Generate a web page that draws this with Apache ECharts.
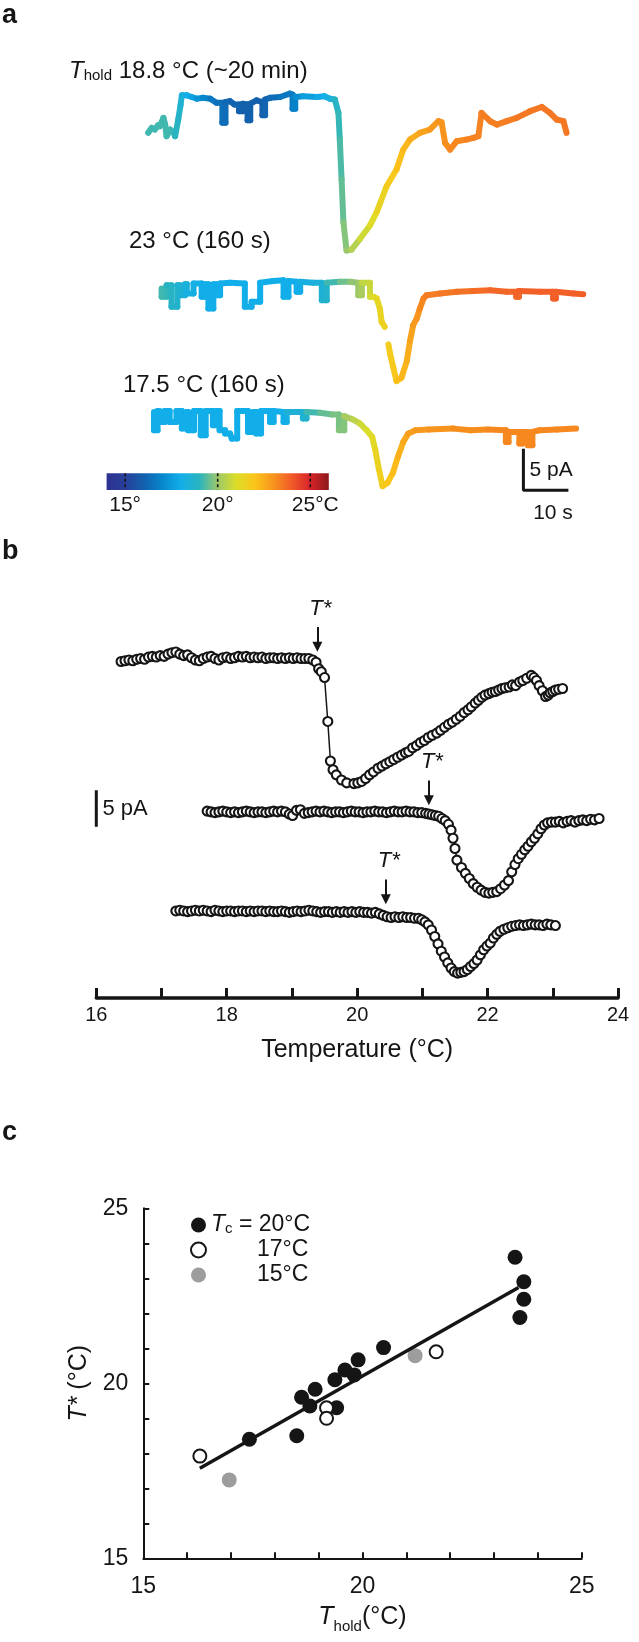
<!doctype html>
<html>
<head>
<meta charset="UTF-8">
<title>T* vs Thold</title>
<style>
  html, body { margin: 0; padding: 0; background: #fff; }
  #chart { width: 639px; height: 1642px; }
</style>
</head>
<body>
<div id="chart"></div>
<script src="https://cdn.jsdelivr.net/npm/echarts@6.0.0/dist/echarts.min.js"></script>
<script>
// ---- panel a: current traces, [time s, current pA, temperature °C]
var aTrace1 = [
  [1.8,-4.3,19.2],[2.6,-3.7,19.2],[3.3,-3.9,19.2],[4.0,-3.4,19.2],[4.4,-3.5,19.2],[5.2,-2.5,19.2],
  [5.6,-3.3,19.2],[5.9,-4.7,19.2],[6.7,-3.9,19.2],[7.4,-4.2,19.2],[7.8,-4.7,19.1],[8.5,-2.7,19.0],
  [9.0,-1.0,18.8],[9.3,0.2,18.6],[10.4,0.2,18.3],[11.5,0.0,18.0],[12.6,-0.2,17.7],[14.0,-0.1,17.3],
  [15.6,-0.2,17.0],[17.0,-0.7,16.6],[18.3,-0.7,16.4],[18.3,-3.1,16.4],[19.0,-3.1,16.3],[19.0,-0.6,16.3],
  [20.0,-0.5,16.2],[21.0,-0.9,16.1],[22.0,-0.9,16.1],[22.0,-1.7,16.1],[22.8,-1.7,16.0],[22.8,-0.8,16.0],
  [23.9,-0.9,16.0],[23.9,-2.8,16.0],[24.5,-2.8,16.0],[24.5,-0.8,16.0],[25.9,-0.4,16.0],[27.2,-0.6,16.0],
  [27.2,-2.2,16.0],[27.8,-2.2,16.0],[27.8,-0.3,16.1],[28.9,-0.1,16.1],[31.1,0.0,16.3],[33.3,0.4,16.6],
  [33.9,0.3,16.7],[33.9,-1.4,16.7],[34.5,-1.4,16.8],[34.5,0.0,16.9],[36.3,0.1,17.2],[39.3,0.0,17.6],
  [41.0,0.1,17.9],[42.2,-0.2,18.1],[43.3,-0.3,18.4],[44.1,-1.9,18.9],[44.4,-5.1,19.1],[44.8,-9.9,19.3],
  [45.2,-15.0,19.5],[45.9,-18.4,19.8],[47.0,-18.3,20.0],[48.9,-17.0,20.4],[51.1,-15.4,20.8],[52.6,-13.8,21.1],
  [54.8,-10.7,21.4],[57.0,-8.7,21.8],[58.5,-6.3,22.1],[60.0,-5.1,22.3],[62.2,-4.3,22.5],[64.4,-3.9,22.7],
  [66.3,-2.9,22.9],[67.0,-3.0,23.0],[67.8,-5.5,23.0],[68.9,-6.3,23.1],[70.4,-5.3,23.2],[72.6,-5.1,23.2],
  [74.1,-4.9,23.3],[75.2,-4.7,23.3],[75.9,-1.9,23.3],[77.8,-2.9,23.4],[79.3,-3.3,23.4],[81.5,-2.9,23.4],
  [83.7,-2.5,23.4],[86.7,-1.7,23.5],[89.3,-1.2,23.5],[91.1,-1.9,23.5],[92.6,-2.7,23.5],[94.1,-2.9,23.5],
  [94.8,-4.3,23.5]
];
var aTrace2 = [
  [4.8,-0.6,19.2],[4.8,-1.6,19.2],[5.9,-1.6,19.2],[5.9,-0.2,19.1],
  [7.0,-0.2,18.9],[7.0,-2.8,18.9],[8.3,-2.8,18.8],[8.3,-0.2,18.7],
  [8.9,-0.2,18.6],[8.9,-1.4,18.6],[10.0,-1.4,18.5],[10.0,-0.1,18.4],
  [10.4,-0.1,18.4],[10.4,-1.2,18.4],[11.9,-1.2,18.2],[11.9,0.0,18.2],
  [13.7,0.0,18.1],[13.7,-1.6,18.0],[14.4,-1.6,18.0],[14.4,-0.1,18.0],
  [15.2,-0.1,18.0],[15.2,-3.0,18.0],[16.3,-3.0,18.0],[16.3,-0.1,18.0],
  [17.0,-0.1,18.0],[17.0,-1.4,18.0],[17.8,-1.4,18.0],[17.8,0.0,18.0],
  [20.0,0.1,18.0],[23.3,0.0,18.0],[23.3,-2.8,18.0],[24.8,-2.8,18.0],[24.8,-2.2,18.0],[26.7,-2.2,18.0],
  [26.7,0.1,18.0],[29.6,0.3,18.0],[31.9,0.4,18.0],[31.9,-1.6,18.0],[33.0,-1.6,18.0],[33.0,0.3,18.0],
  [34.8,0.2,18.0],[34.8,-1.0,18.0],[35.6,-1.0,18.0],[35.6,0.2,18.0],
  [38.5,0.1,18.2],[40.4,0.1,18.4],[40.4,-2.0,18.5],[41.5,-2.0,18.6],[41.5,0.1,18.7],
  [44.4,0.2,19.2],[46.7,0.2,19.6],[48.5,0.1,19.9],[48.5,-1.4,20.0],[49.3,-1.4,20.1],[49.3,0.1,20.2],
  [51.1,0.1,20.6],[51.1,-1.6,20.7],[51.9,-1.6,20.9],[52.6,-1.8,21.1],[53.3,-3.0,21.3],
  [53.7,-4.6,21.4],[54.4,-5.2,21.5],[54.5,null,21.5],[55.2,-7.3,21.6],[55.6,-8.5,21.7],[56.3,-10.1,21.8],
  [57.0,-11.7,21.9],[58.1,-11.3,22.1],[59.3,-9.3,22.3],[60.0,-6.9,22.5],[60.7,-5.0,22.7],[61.5,-4.2,22.9],
  [62.2,-3.0,23.0],[63.0,-1.8,23.2],[63.7,-1.4,23.3],[66.7,-1.2,23.4],[70.4,-1.0,23.5],[74.1,-0.9,23.6],
  [77.8,-0.8,23.7],[81.5,-1.0,23.8],[83.6,-1.0,23.8],[83.6,-1.6,23.8],[84.2,-1.6,23.8],[84.2,-0.9,23.8],
  [88.9,-1.0,23.9],[91.8,-1.0,23.9],[91.8,-1.8,23.9],[92.4,-1.8,23.9],[92.4,-1.0,23.9],[96.3,-1.2,23.9],
  [98.5,-1.3,23.9]
];
var aTrace3 = [
  [3.1,0.0,18.0],[3.1,-2.2,18.0],[3.9,-2.2,18.0],[3.9,0.1,18.0],
  [4.3,0.1,18.0],[4.3,-1.2,18.0],[5.5,-1.2,18.0],[5.5,0.1,18.0],
  [6.6,0.1,18.0],[6.6,-1.2,18.0],[8.1,-1.2,18.0],[8.1,0.1,18.0],
  [9.3,0.1,18.0],[9.3,-2.0,18.0],[10.4,-2.0,18.0],[10.4,0.0,18.0],
  [10.7,0.0,18.0],[10.7,-2.2,18.0],[12.0,-2.2,18.0],[12.0,0.1,18.0],
  [13.5,0.1,18.0],[13.5,-2.8,18.0],[14.6,-2.8,18.0],[14.6,0.1,18.0],
  [16.2,0.1,18.0],[16.2,-1.6,18.0],[17.0,-1.6,18.0],[17.0,0.1,18.0],
  [17.7,0.1,18.0],[17.7,-2.2,18.0],[18.9,-2.2,18.0],[18.9,-2.6,18.0],[20.0,-2.6,18.0],[20.4,-3.2,18.0],
  [21.6,-3.2,18.0],[21.6,0.1,18.0],[24.0,0.1,18.0],[24.0,-2.4,18.0],[25.2,-2.4,18.0],[25.2,0.0,18.0],
  [25.8,0.0,18.0],[25.8,-2.6,18.0],[26.9,-2.6,18.0],[26.9,0.1,18.0],
  [28.9,0.1,18.0],[28.9,-1.2,18.0],[29.7,-1.2,18.0],[29.7,0.1,18.0],
  [31.9,0.0,18.0],[31.9,-1.2,18.0],[32.6,-1.2,18.0],[32.6,0.0,18.1],
  [36.2,0.0,18.5],[36.2,-0.8,18.5],[37.0,-0.8,18.6],[37.0,0.0,18.7],
  [40.0,-0.1,19.2],[42.7,-0.3,19.5],[44.2,-0.3,19.7],[44.2,-2.2,19.7],[45.4,-2.2,19.8],[45.4,-0.5,19.8],
  [47.3,-0.9,20.2],[48.9,-1.4,20.5],[50.4,-2.2,20.8],[51.6,-3.0,21.0],[52.3,-4.6,21.2],
  [53.1,-6.9,21.4],[53.9,-8.9,21.6],[55.0,-8.5,21.8],[56.2,-7.3,22.0],[57.3,-5.4,22.2],[58.5,-3.6,22.4],
  [59.6,-2.6,22.6],[61.2,-2.2,22.8],[64.2,-2.1,22.9],[69.6,-2.0,23.0],[73.5,-2.2,23.1],[77.3,-2.1,23.1],
  [81.3,-2.2,23.2],[81.3,-3.6,23.2],[81.9,-3.6,23.2],[81.9,-2.4,23.2],[84.3,-2.4,23.2],[84.3,-3.8,23.2],
  [85.0,-3.8,23.2],[85.0,-2.4,23.2],[86.2,-2.4,23.2],[86.2,-4.0,23.2],[87.2,-4.0,23.2],[87.2,-2.4,23.2],
  [88.8,-2.2,23.2],[92.7,-2.1,23.2],[96.9,-2.0,23.2]
];
var aOffsets = [-2.04, -24.4, -39.8];
var aLabels = ['18.8 °C (~20 min)', '23 °C (160 s)', '17.5 °C (160 s)'];
var aScaleBar = [[85.2, -44.2], [85.2, -49.2], [95.2, -49.2]];   // 5 pA, 10 s

// colour scale (°C)
var jetTemps = [14, 15, 16, 17, 18, 19, 20, 21, 22, 23, 24, 25, 26];
var jetColors = ['#2e3192','#28409a','#1360ad','#0687cc','#12aee9','#29b4c0','#9cc86a',
                 '#dcdd29','#fbc51a','#f7941d','#f15a29','#d8232a','#8b1a1a'];
var cbTicks = [15, 20, 25];

// ---- panel b: current vs temperature, [°C, pA]
var bTop = [
  [16.38,-0.4],[16.44,-0.3],[16.50,-0.2],[16.56,-0.3],[16.62,-0.1],[16.68,0.0],[16.74,-0.1],[16.80,0.2],
  [16.86,0.3],[16.92,0.2],[16.98,0.4],[17.04,0.3],[17.10,0.6],[17.16,0.8],[17.22,0.9],[17.28,0.6],
  [17.34,0.4],[17.40,0.5],[17.46,0.1],[17.52,-0.2],[17.58,-0.3],[17.64,0.0],[17.70,0.2],[17.76,0.3],
  [17.82,0.0],[17.88,-0.2],[17.94,0.1],[18.00,0.2],[18.06,0.0],[18.12,0.1],[18.18,0.3],[18.24,0.2],
  [18.30,0.3],[18.36,0.1],[18.42,0.2],[18.48,0.1],[18.54,0.2],[18.60,0.0],[18.66,0.1],[18.72,0.1],
  [18.78,0.0],[18.84,0.1],[18.90,0.0],[18.96,0.1],[19.02,0.0],[19.08,0.1],[19.14,0.0],[19.20,0.0],
  [19.26,0.0],[19.32,-0.2],[19.37,-0.5],[19.41,-1.4],[19.45,-1.8],[19.50,-2.6],[19.55,-8.6],[19.59,-14.0],
  [19.63,-15.2],[19.68,-15.9],[19.76,-16.6],[19.84,-17.0],[19.95,-17.1],[20.01,-17.0],[20.07,-16.8],
  [20.13,-16.4],[20.19,-15.9],[20.25,-15.5],[20.32,-15.0],[20.38,-14.7],[20.44,-14.4],[20.50,-14.1],
  [20.56,-13.8],[20.62,-13.5],[20.68,-13.2],[20.74,-12.9],[20.79,-12.7],[20.85,-12.2],[20.91,-11.9],
  [20.97,-11.5],[21.03,-11.2],[21.09,-10.8],[21.15,-10.5],[21.22,-10.2],[21.28,-9.8],[21.34,-9.4],
  [21.40,-9.0],[21.46,-8.7],[21.52,-8.3],[21.58,-7.9],[21.64,-7.4],[21.70,-7.0],[21.75,-6.6],[21.81,-6.1],
  [21.86,-5.7],[21.91,-5.3],[21.96,-5.0],[22.02,-4.8],[22.07,-4.6],[22.12,-4.5],[22.17,-4.3],[22.22,-4.1],
  [22.27,-4.0],[22.33,-3.9],[22.38,-3.6],[22.43,-3.7],[22.49,-3.2],[22.54,-3.0],[22.60,-2.7],[22.67,-2.3],
  [22.71,-2.6],[22.75,-3.0],[22.79,-3.7],[22.84,-4.4],[22.89,-5.2],[22.93,-5.0],[22.96,-4.7],[23.00,-4.5],
  [23.04,-4.3],[23.09,-4.2],[23.15,-4.1]
];
var bMid = [
  [17.70,0.1],[17.76,0.0],[17.82,-0.1],[17.88,0.0],[17.94,0.1],[18.00,0.0],[18.06,-0.1],[18.12,0.0],
  [18.18,-0.1],[18.24,0.0],[18.30,0.1],[18.36,0.0],[18.42,-0.1],[18.48,0.0],[18.54,0.0],[18.60,-0.1],
  [18.66,0.0],[18.72,0.1],[18.78,0.0],[18.84,0.1],[18.90,0.0],[18.96,-0.3],[19.01,-0.5],[19.07,0.2],
  [19.13,0.3],[19.19,-0.2],[19.25,-0.1],[19.31,0.0],[19.37,0.1],[19.43,0.0],[19.49,0.1],[19.55,0.0],
  [19.61,-0.1],[19.67,0.0],[19.73,0.0],[19.79,-0.1],[19.85,0.0],[19.91,0.1],[19.97,0.0],[20.03,0.0],
  [20.09,-0.1],[20.15,0.0],[20.21,0.0],[20.27,0.1],[20.33,0.0],[20.39,0.0],[20.45,-0.1],[20.51,0.0],
  [20.57,0.1],[20.63,0.0],[20.69,0.0],[20.75,0.1],[20.81,0.0],[20.87,0.0],[20.93,-0.1],[20.99,-0.1],
  [21.05,-0.2],[21.10,-0.3],[21.15,-0.4],[21.20,-0.5],[21.25,-0.6],[21.30,-0.9],[21.35,-1.2],[21.40,-1.7],
  [21.44,-2.5],[21.47,-3.6],[21.50,-5.0],[21.53,-6.6],[21.60,-7.6],[21.66,-8.4],[21.72,-9.1],[21.78,-9.8],
  [21.84,-10.3],[21.90,-10.7],[21.96,-11.0],[22.02,-11.1],[22.08,-11.0],[22.14,-10.9],[22.20,-10.5],
  [22.26,-10.0],[22.32,-9.4],[22.37,-8.2],[22.42,-7.2],[22.47,-6.4],[22.52,-5.8],[22.57,-5.2],[22.62,-4.7],
  [22.67,-4.1],[22.72,-3.6],[22.77,-3.0],[22.82,-2.3],[22.87,-1.8],[22.92,-1.5],[22.98,-1.4],[23.04,-1.4],
  [23.10,-1.3],[23.16,-1.5],[23.22,-1.3],[23.28,-1.2],[23.34,-1.4],[23.40,-1.2],[23.46,-1.1],[23.52,-1.2],
  [23.58,-1.0],[23.64,-1.1],[23.71,-0.9]
];
var bBot = [
  [17.22,0.0],[17.28,0.1],[17.34,0.0],[17.40,-0.1],[17.46,0.0],[17.52,0.1],[17.58,0.0],[17.64,0.1],
  [17.70,0.0],[17.76,-0.1],[17.82,0.1],[17.88,0.0],[17.94,-0.1],[18.00,0.0],[18.06,0.0],[18.12,-0.1],
  [18.18,0.0],[18.24,0.0],[18.30,-0.1],[18.36,0.0],[18.42,-0.1],[18.48,0.0],[18.54,0.0],[18.60,-0.1],
  [18.66,0.0],[18.72,-0.1],[18.78,-0.1],[18.84,0.0],[18.90,-0.1],[18.96,-0.2],[19.02,-0.1],[19.08,0.0],
  [19.14,-0.1],[19.20,0.0],[19.26,0.1],[19.32,0.0],[19.38,-0.1],[19.44,-0.2],[19.50,-0.1],[19.56,-0.1],
  [19.62,-0.2],[19.68,-0.1],[19.74,-0.2],[19.80,-0.1],[19.86,-0.2],[19.92,-0.1],[19.98,-0.2],[20.04,-0.1],
  [20.10,-0.2],[20.16,-0.2],[20.22,-0.3],[20.28,-0.2],[20.34,-0.4],[20.40,-0.6],[20.46,-0.8],[20.52,-0.9],
  [20.58,-0.8],[20.64,-0.9],[20.70,-0.8],[20.76,-0.9],[20.82,-0.9],[20.88,-1.0],[20.94,-1.0],[20.99,-1.2],
  [21.04,-1.5],[21.09,-1.9],[21.14,-2.6],[21.19,-3.5],[21.24,-4.5],[21.29,-5.5],[21.34,-6.3],[21.39,-7.1],
  [21.44,-7.8],[21.49,-8.3],[21.54,-8.5],[21.59,-8.4],[21.64,-8.3],[21.69,-8.0],[21.74,-7.6],[21.79,-7.2],
  [21.84,-6.7],[21.89,-6.0],[21.94,-5.3],[21.99,-4.8],[22.04,-4.4],[22.09,-3.7],[22.14,-3.2],[22.19,-2.8],
  [22.25,-2.5],[22.31,-2.3],[22.37,-2.1],[22.43,-2.0],[22.49,-1.9],[22.55,-2.0],[22.61,-1.9],[22.67,-1.8],
  [22.73,-1.9],[22.79,-1.9],[22.85,-2.0],[22.91,-1.8],[22.97,-1.9],[23.04,-2.0]
];
var bOffsets = [0, -20.96, -34.5];
var bTStar = [19.39, 21.10, 20.44];
var bScaleBar = [[16, -18], [16, -23]];   // 5 pA

// ---- panel c: T* vs Thold, [Thold, T*]
var cNames = ['Tc = 20°C', '17°C', '15°C'];
var cFilled = [[17.42,18.40],[18.50,18.50],[18.61,19.60],[18.80,19.35],[18.92,19.83],[19.37,20.10],
  [19.41,19.30],[19.60,20.38],[19.81,20.24],[19.90,20.67],[20.48,21.02],[23.48,23.60],[23.68,22.90],
  [23.68,22.40],[23.59,21.88]];
var cOpen = [[16.29,17.92],[19.18,19.30],[19.18,19.00],[21.68,20.90]];
var cGray = [[16.96,17.24],[21.20,20.79]];
var cFit = [[16.29,17.57],[23.56,22.74]];

var FONT = 'Liberation Sans, Arial, Helvetica, sans-serif';
var INK = '#151515';

var chart = echarts.init(document.getElementById('chart'), null, { renderer: 'canvas' });

function renderTrace(params, api) {
  var i = params.dataIndexInside;
  if (i === 0) return;
  var x0 = api.value(0, i - 1), y0 = api.value(1, i - 1);
  var x1 = api.value(0), y1 = api.value(1);
  if (isNaN(y0) || isNaN(y1)) return;
  var a = api.coord([x0, y0]), b = api.coord([x1, y1]);
  return {
    type: 'line',
    shape: { x1: a[0], y1: a[1], x2: b[0], y2: b[1] },
    style: { stroke: api.visual('color'), lineWidth: 6, lineCap: 'round' }
  };
}

function aSeries(trace, off) {
  return {
    type: 'custom', xAxisIndex: 0, yAxisIndex: 0, silent: true,
    data: trace.map(function (p) { return [p[0], p[1] === null ? null : p[1] + off, p[2]]; }),
    renderItem: renderTrace
  };
}

function bSeries(trace, i) {
  var off = bOffsets[i];
  return {
    type: 'line', xAxisIndex: 2, yAxisIndex: 2, silent: true,
    data: trace.map(function (p) { return [p[0], p[1] + off]; }),
    symbol: 'circle', symbolSize: 9, showSymbol: true, showAllSymbol: true,
    itemStyle: { color: '#fff', borderColor: INK, borderWidth: 2.1 },
    lineStyle: { color: INK, width: 1.5 },
    markLine: {
      silent: true, symbol: ['none', 'triangle'], symbolSize: [10, 10],
      lineStyle: { color: INK, width: 2, type: 'solid' },
      label: { show: false },
      data: [[{ coord: [bTStar[i], off + 4.3] }, { coord: [bTStar[i], off + 1.6] }]]
    },
    markPoint: {
      silent: true, symbol: 'circle', symbolSize: 1,
      itemStyle: { color: 'rgba(0,0,0,0)' },
      label: { show: true, position: 'inside', formatter: 'T*', fontStyle: 'italic',
               fontSize: 22, color: INK, fontFamily: FONT, offset: [3, 0] },
      data: [{ coord: [bTStar[i], off + 6.8] }]
    }
  };
}

var stops = jetColors.map(function (c, i) {
  return { offset: (jetTemps[i] - jetTemps[0]) / (jetTemps[jetTemps.length - 1] - jetTemps[0]), color: c };
});

var option = {
  backgroundColor: '#fff',
  animation: false,
  textStyle: { fontFamily: FONT, color: INK },
  grid: [
    { left: 140, top: 80, width: 450, height: 417 },
    { left: 106.6, top: 473.3, width: 222.2, height: 16.7 },
    { left: 96.3, top: 600, width: 521.7, height: 398 },
    { left: 143.3, top: 1208.3, width: 438.4, height: 350 }
  ],
  visualMap: {
    type: 'continuous', show: false, seriesIndex: [0, 1, 2], dimension: 2,
    min: jetTemps[0], max: jetTemps[jetTemps.length - 1],
    inRange: { color: jetColors }
  },
  xAxis: [
    { gridIndex: 0, type: 'value', min: 0, max: 100, show: false },
    { gridIndex: 1, type: 'value', min: 14, max: 26, interval: 1,
      axisLine: { show: false }, axisTick: { show: false }, splitLine: { show: false },
      axisLabel: { margin: 5, fontSize: 21, color: INK,
        formatter: function (v) {
          if (v === 25) return '{r|25°C}';
          return cbTicks.indexOf(v) >= 0 ? v + '°' : '';
        },
        rich: { r: { fontSize: 21, padding: [0, 0, 0, 10] } } } },
    { gridIndex: 2, type: 'value', min: 16, max: 24, interval: 2,
      axisLine: { onZero: false, lineStyle: { color: INK, width: 3.5 } },
      axisTick: { inside: true, length: 10, lineStyle: { color: INK, width: 3 } },
      minorTick: { show: true, splitNumber: 2, length: 10, lineStyle: { color: INK, width: 3 } },
      splitLine: { show: false },
      axisLabel: { margin: 7, fontSize: 20, color: INK },
      name: 'Temperature (°C)', nameLocation: 'middle', nameGap: 40,
      nameTextStyle: { fontSize: 25, color: INK } },
    { gridIndex: 3, type: 'value', min: 15, max: 25, interval: 5,
      axisLine: { onZero: false, lineStyle: { color: INK, width: 2 } },
      axisTick: { inside: true, length: 6, lineStyle: { color: INK, width: 2 } },
      minorTick: { show: true, splitNumber: 5, length: 6, lineStyle: { color: INK, width: 2 } },
      splitLine: { show: false },
      axisLabel: { margin: 17, fontSize: 23, color: INK },
      name: '{i|T}{s|hold}{n|(°C)}', nameLocation: 'middle', nameGap: 42,
      nameTextStyle: { fontSize: 25, color: INK,
        rich: { i: { fontSize: 25, fontStyle: 'italic' },
                s: { fontSize: 15, verticalAlign: 'bottom', padding: [19, 0, 0, 0] },
                n: { fontSize: 25 } } } }
  ],
  yAxis: [
    { gridIndex: 0, type: 'value', min: -50, max: 0, show: false },
    { gridIndex: 1, type: 'value', min: 0, max: 1, show: false },
    { gridIndex: 2, type: 'value', min: -46.4, max: 8, show: false },
    { gridIndex: 3, type: 'value', min: 15, max: 25, interval: 5,
      axisLine: { show: true, onZero: false, lineStyle: { color: INK, width: 2 } },
      axisTick: { show: true, inside: true, length: 6, lineStyle: { color: INK, width: 2 } },
      minorTick: { show: true, splitNumber: 5, length: 6, lineStyle: { color: INK, width: 2 } },
      splitLine: { show: false },
      axisLabel: { margin: 15, fontSize: 23, color: INK },
      name: '{i|T*} {n|(°C)}', nameLocation: 'middle', nameGap: 49, nameRotate: 90,
      nameTextStyle: { fontSize: 25, color: INK,
        rich: { i: { fontSize: 25, fontStyle: 'italic' }, n: { fontSize: 25 } } } }
  ],
  legend: {
    data: cNames, orient: 'vertical', left: 190, top: 1213.5, padding: 0,
    itemWidth: 15, itemHeight: 15, itemGap: 2, selectedMode: false, icon: 'circle',
    textStyle: { fontSize: 23, color: INK,
      rich: { i: { fontSize: 23, fontStyle: 'italic' },
              s: { fontSize: 15, verticalAlign: 'bottom', padding: [8, 0, 0, 0] },
              n: { fontSize: 23 },
              sp: { width: 46 } } },
    formatter: function (name) {
      if (name === cNames[0]) return '{i|T}{s|c}{n| = 20°C}';
      return '{sp|}{n|' + name + '}';
    }
  },
  series: [
    aSeries(aTrace1, aOffsets[0]),
    aSeries(aTrace2, aOffsets[1]),
    aSeries(aTrace3, aOffsets[2]),
    { type: 'line', xAxisIndex: 0, yAxisIndex: 0, silent: true, data: aScaleBar,
      symbol: 'none', lineStyle: { color: INK, width: 3 } },
    { type: 'custom', xAxisIndex: 1, yAxisIndex: 1, silent: true,
      data: [[jetTemps[0], jetTemps[jetTemps.length - 1]]],
      renderItem: function (params, api) {
        var a = api.coord([api.value(0), 1]), b = api.coord([api.value(1), 0]);
        return { type: 'rect', shape: { x: a[0], y: a[1], width: b[0] - a[0], height: b[1] - a[1] },
                 style: { fill: new echarts.graphic.LinearGradient(0, 0, 1, 0, stops) } };
      } },
    { type: 'custom', xAxisIndex: 1, yAxisIndex: 1, silent: true,
      data: cbTicks.map(function (v) { return [v, 0]; }),
      renderItem: function (params, api) {
        var a = api.coord([api.value(0), 1]), b = api.coord([api.value(0), 0]);
        return { type: 'line', shape: { x1: a[0], y1: a[1], x2: b[0], y2: b[1] },
                 style: { stroke: INK, lineWidth: 1.6, lineDash: [3, 2.5] } };
      } },
    bSeries(bTop, 0),
    bSeries(bMid, 1),
    bSeries(bBot, 2),
    { type: 'line', xAxisIndex: 2, yAxisIndex: 2, silent: true, data: bScaleBar,
      symbol: 'none', lineStyle: { color: INK, width: 3 } },
    { type: 'line', xAxisIndex: 3, yAxisIndex: 3, silent: true, data: cFit,
      symbol: 'none', lineStyle: { color: INK, width: 3.5 } },
    { name: cNames[0], type: 'scatter', xAxisIndex: 3, yAxisIndex: 3, data: cFilled,
      symbolSize: 15, itemStyle: { color: INK, opacity: 1 } },
    { name: cNames[1], type: 'scatter', xAxisIndex: 3, yAxisIndex: 3, data: cOpen,
      symbolSize: 13, itemStyle: { color: '#fff', borderColor: INK, borderWidth: 2, opacity: 1 } },
    { name: cNames[2], type: 'scatter', xAxisIndex: 3, yAxisIndex: 3, data: cGray,
      symbolSize: 15, itemStyle: { color: '#9d9d9d', opacity: 1 } }
  ],
  graphic: [
    { type: 'text', x: 2, y: 15.6, style: { text: 'a', fontSize: 27, fontWeight: 'bold', fontFamily: FONT, fill: INK, verticalAlign: 'middle' } },
    { type: 'text', x: 2, y: 552, style: { text: 'b', fontSize: 27, fontWeight: 'bold', fontFamily: FONT, fill: INK, verticalAlign: 'middle' } },
    { type: 'text', x: 2, y: 1132.5, style: { text: 'c', fontSize: 27, fontWeight: 'bold', fontFamily: FONT, fill: INK, verticalAlign: 'middle' } },
    { type: 'text', x: 69, y: 71.7, style: {
        text: '{i|T}{s|hold}{n| ' + aLabels[0] + '}', fontSize: 24, fontFamily: FONT, fill: INK, verticalAlign: 'middle',
        rich: { i: { fontSize: 24, fontStyle: 'italic', fontFamily: FONT },
                s: { fontSize: 15, verticalAlign: 'bottom', padding: [6, 0, 0, 0], fontFamily: FONT },
                n: { fontSize: 24, fontFamily: FONT } } } },
    { type: 'text', x: 129, y: 241.7, style: { text: aLabels[1], fontSize: 24, fontFamily: FONT, fill: INK, verticalAlign: 'middle' } },
    { type: 'text', x: 123, y: 385, style: { text: aLabels[2], fontSize: 24, fontFamily: FONT, fill: INK, verticalAlign: 'middle' } },
    { type: 'text', x: 529.5, y: 470, style: { text: '5 pA', fontSize: 21, fontFamily: FONT, fill: INK, verticalAlign: 'middle' } },
    { type: 'text', x: 553, y: 513.3, style: { text: '10 s', fontSize: 21, fontFamily: FONT, fill: INK, align: 'center', verticalAlign: 'middle' } },
    { type: 'text', x: 102.5, y: 809, style: { text: '5 pA', fontSize: 22, fontFamily: FONT, fill: INK, verticalAlign: 'middle' } }
  ]
};

chart.setOption(option);
</script>
</body>
</html>
